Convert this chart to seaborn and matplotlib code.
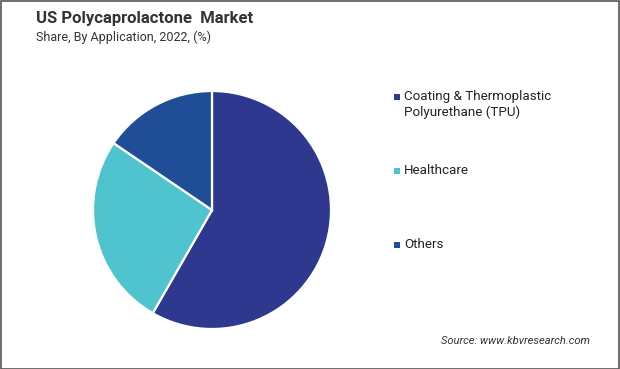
import matplotlib
matplotlib.use("Agg")
import matplotlib.pyplot as plt
import seaborn as sns
from matplotlib.patches import Rectangle

categories = ["Coating & Thermoplastic\nPolyurethane (TPU)", "Healthcare", "Others"]
shares = [58.3, 26.2, 15.5]
colors = ["#2E388E", "#4FC4CF", "#1F4E97"]
title = "US Polycaprolactone  Market"
subtitle = "Share, By Application, 2022, (%)"
source = "Source: www.kbvresearch.com"

sns.set_theme(style="white")
plt.rcParams['font.family'] = ['Roboto', 'DejaVu Sans']

W, H = 620, 369
fig = plt.figure(figsize=(W / 100, H / 100), dpi=100)
fig.patch.set_facecolor("white")

# pie axes: center (212,210) px, radius 119 px
cx, cy, r = 212, 210, 119
ax = fig.add_axes([(cx - r) / W, (H - cy - r) / H, 2 * r / W, 2 * r / H])
ax.pie(shares, colors=colors, startangle=90, counterclock=False,
       wedgeprops=dict(edgecolor="white", linewidth=1.6))
ax.set_xlim(-1, 1)
ax.set_ylim(-1, 1)
ax.set_aspect("equal")
ax.axis("off")

fig.text(36 / W, 1 - 18 / H, title, fontsize=12, fontweight="bold",
         color="#333333", va="center", ha="left")
fig.text(36 / W, 1 - 37 / H, subtitle, fontsize=9, color="#333333",
         va="center", ha="left")

# legend
leg_y = [97, 171, 245]
for lab, col, y in zip(categories, colors, leg_y):
    fig.patches.append(Rectangle(((394) / W, 1 - (y + 3) / H), 6 / W, 6 / H,
                                 transform=fig.transFigure, facecolor=col,
                                 edgecolor="none"))
    fig.text(404 / W, 1 - (y - 7) / H, lab, fontsize=9.6, color="#222222",
             va="top", ha="left", linespacing=1.2)

fig.text(590 / W, 1 - 341 / H, source, fontsize=8, style="italic",
         color="#333333", va="center", ha="right")

fig.patches.append(Rectangle((0.5 / W, 0.5 / H), 1 - 1.5 / W, 1 - 1.5 / H,
                             transform=fig.transFigure, facecolor="none",
                             edgecolor="#555555", linewidth=1.2))

fig.savefig("out.png", dpi=100)
